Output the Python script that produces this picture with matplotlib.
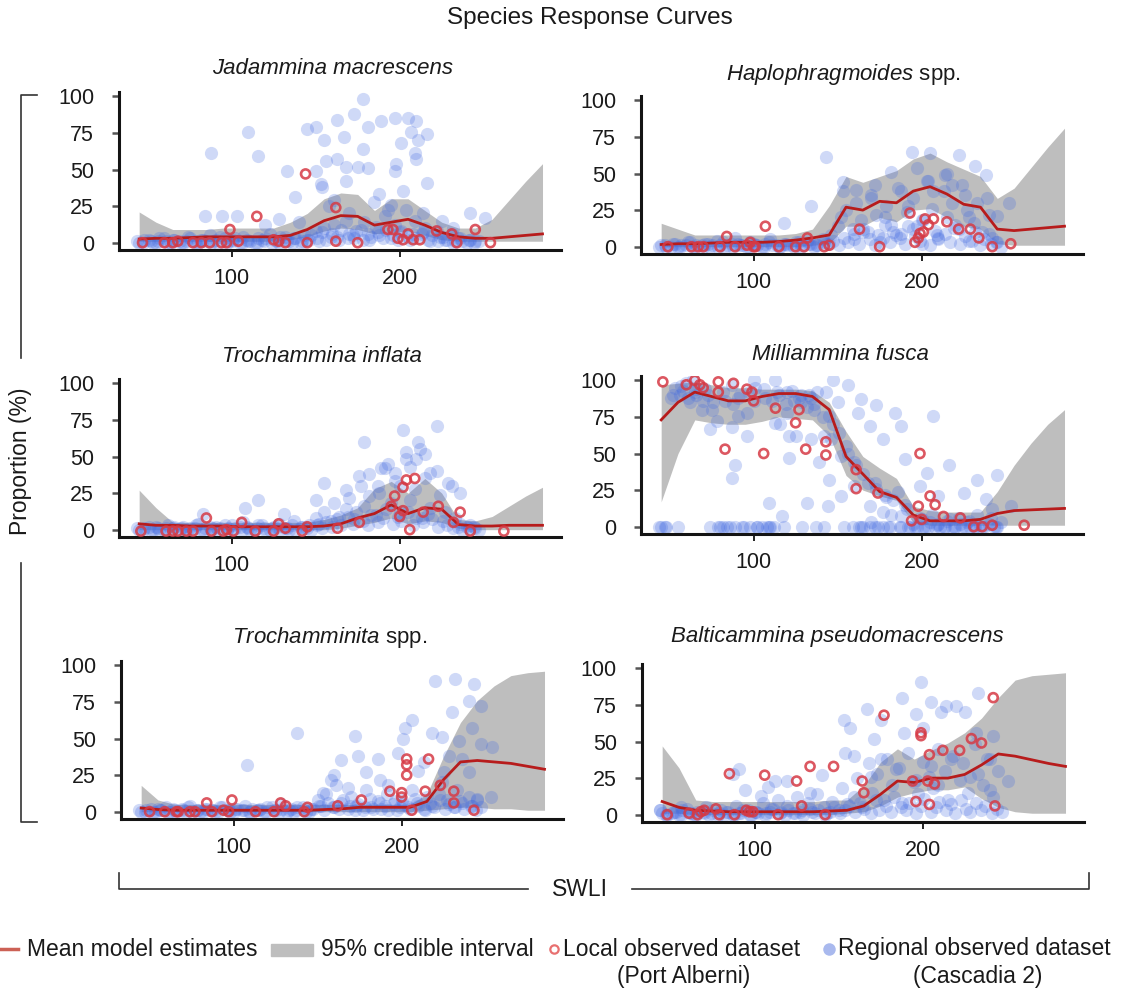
# Species response curves, six foram species vs SWLI

import matplotlib.pyplot as plt
from matplotlib.lines import Line2D
from matplotlib.patches import Rectangle

plt.rcParams['font.family'] = ['Liberation Sans', 'DejaVu Sans']
plt.rcParams['mathtext.fontset'] = 'custom'
plt.rcParams['mathtext.it'] = 'Liberation Sans:italic'
plt.rcParams['mathtext.rm'] = 'Liberation Sans'

# model grid (SWLI) shared by all curves
swli_grid = [45, 55, 65, 75, 85, 95, 105, 115, 125, 135, 145, 155, 165,
             175, 185, 195, 205, 215, 225, 235, 245, 255, 265, 275, 285]

# regional samples near the bottom of each panel (same SWLI for every species)
reg_low_x = [44, 47, 51, 53, 56, 60, 62, 65, 69, 71, 74, 78, 80, 83, 87, 89, 92,
             96, 98, 101, 105, 107, 110, 114, 116, 119, 123, 125, 128, 132, 134,
             137, 141, 143, 146, 150, 152, 155, 159, 161, 164, 168, 170, 173, 177,
             179, 182, 186, 188, 191, 195, 197, 200, 204, 206, 209, 213, 215, 218,
             222, 224, 227, 231, 233, 236, 240, 242, 245]
reg_low_x2 = [45, 48, 52, 55, 57, 61, 64, 66, 70, 73, 75, 79, 82, 84, 88, 91, 93,
              97, 100, 102, 106, 109, 111, 115, 118, 120, 124, 127, 129, 133, 136,
              138, 142, 145, 147, 151, 154, 156, 160, 163, 165, 169, 172, 174, 178,
              181, 183, 187, 190, 192, 196, 199, 201, 205, 208, 210, 214, 217, 219,
              223, 226, 228, 232, 235, 237, 241, 244, 247]

# --- Jadammina macrescens
jm_mean = [2.5, 3, 3, 3.5, 4, 4, 4, 4, 4, 5, 9, 15, 18.5, 18, 12, 14, 16, 12, 7, 4, 3, 3, 4, 5, 6]
jm_upper = [21, 14, 9, 9, 9, 10, 10, 10, 10, 14, 20, 30, 34, 33, 22, 30, 30, 22, 14, 10, 10, 16, 29, 42, 54]
jm_lower = [1, 1, 1, 1, 1, 1, 1, 1, 1, 2, 4, 8, 10, 9, 6, 7, 8, 5, 2, 1, 1, 1, 1, 1, 1]
jm_reg_low = [1, 0, 2, 0, 1, 3, 0, 2, 1, 0, 4, 1, 0, 2, 5, 1, 0, 3, 1, 2,
              0, 4, 1, 0, 3, 1, 6, 2, 0, 4, 1, 3, 0, 5, 2, 8, 1, 10, 4, 12,
              2, 15, 6, 3, 9, 14, 2, 11, 5, 18, 3, 12, 7, 22, 2, 15, 6, 10, 1, 8,
              4, 2, 6, 1, 3, 0, 2, 1]
jm_reg_low2 = [0, 2, 1, 0, 3, 1, 0, 2, 0, 1, 3, 0, 2, 1, 0, 2, 4, 0, 1, 3,
               0, 2, 1, 0, 2, 3, 0, 1, 4, 2, 0, 3, 1, 2, 5, 3, 7, 2, 6, 4,
               9, 3, 5, 8, 2, 6, 4, 7, 3, 9, 5, 2, 8, 4, 6, 3, 7, 2, 5, 1,
               4, 2, 0, 3, 1, 2, 0, 1]
jm_reg_x = [88, 110, 116, 84, 94, 103, 128, 133, 138, 145, 150, 154, 150, 155, 156, 163, 167, 163,
            168, 173, 178, 181, 178, 175, 181, 168, 189, 197, 205, 210, 207, 216, 211, 201, 209, 210,
            198, 216, 188, 202, 197, 153, 161, 242, 251, 193, 214, 120, 140, 158, 170, 185, 195, 225, 232]
jm_reg_y = [61, 76, 59, 18, 18, 18, 16, 49, 31, 78, 49, 38, 79, 70, 56, 84, 72, 57,
            52, 88, 98, 79, 64, 52, 51, 42, 83, 85, 85, 83, 76, 74, 70, 68, 61, 57,
            54, 41, 33, 35, 49, 40, 29, 20, 17, 22, 20, 12, 14, 25, 20, 28, 26, 15, 10]
jm_loc_x = [47, 60, 65, 68, 77, 82, 87, 94, 97, 104, 99, 115, 125, 128, 132, 144, 145, 162, 162, 175,
            193, 196, 199, 202, 205, 208, 212, 222, 231, 234, 245, 254]
jm_loc_y = [0, 0, 0, 1, 0, 0, 0, 0, 0, 1, 9, 18, 2, 1, 0, 47, 0, 24, 1, 0,
            9, 9, 3, 2, 6, 2, 2, 8, 6, 0, 9, 0]

# --- Haplophragmoides spp.
hp_mean = [1.5, 2, 2, 2.5, 3, 3, 3, 3.5, 4.5, 6, 8, 27, 25, 31, 30, 38, 41, 36, 29, 27, 12, 11, 12, 13, 14]
hp_upper = [16, 12, 8, 8, 8, 8, 8, 8, 9, 12, 28, 48, 44, 48, 52, 60, 64, 58, 53, 48, 33, 40, 54, 68, 81]
hp_lower = [0, 0, 0, 0, 0, 0, 0, 0, 0, 1, 2, 14, 14, 20, 17, 25, 26, 20, 14, 12, 2, 1, 1, 1, 1]
hp_reg_low = [0, 1, 0, 2, 0, 1, 3, 0, 1, 2, 0, 4, 1, 0, 2, 6, 1, 0, 3, 1,
              0, 2, 5, 1, 0, 2, 1, 3, 0, 4, 2, 1, 5, 2,
              8, 14, 20, 25, 12, 30, 18, 10, 35, 22, 6, 28, 15, 40, 9, 24, 33, 14, 18, 45,
              26, 8, 38, 20, 30, 12, 42, 25, 16, 30, 10, 22, 6, 3]
hp_reg_low2 = [1, 0, 2, 0, 1, 3, 0, 1, 0, 2, 1, 0, 3, 1, 0, 2, 1, 0, 2, 1,
               0, 3, 1, 0, 2, 1, 0, 3, 1, 2, 0, 1, 3, 2, 4, 1, 6, 3, 9, 2,
               12, 5, 1, 8, 15, 3, 10, 6, 2, 14, 7, 4, 18, 1, 11, 5, 9, 3, 13, 2,
               7, 4, 10, 1, 5, 2, 3, 0]
hp_reg_x = [143, 134, 118, 153, 194, 205, 222, 232, 238, 182, 170, 252, 218, 207, 188, 172, 161, 153, 197,
            214, 226, 239, 245, 160, 165, 175, 185, 195, 200, 210, 220, 230, 240, 178, 203, 192, 215, 228]
hp_reg_y = [61, 28, 16, 44, 65, 64, 63, 55, 49, 51, 33, 30, 42, 38, 38, 42, 39, 38, 54,
            49, 35, 33, 21, 5, 10, 3, 8, 12, 2, 6, 15, 4, 9, 20, 45, 28, 50, 20]
hp_loc_x = [49, 63, 67, 70, 80, 84, 89, 96, 98, 100, 101, 115, 125, 130, 132, 107, 142, 145, 163, 175,
            193, 196, 199, 198, 201, 202, 204, 207, 215, 222, 229, 234, 242, 253]
hp_loc_y = [0, 0, 0, 0, 0, 7, 0, 1, 3, 0, 0, 0, 0, 0, 6, 14, 0, 1, 12, 0,
            23, 3, 9, 6, 10, 19, 15, 19, 17, 12, 12, 6, 0, 2]

# --- Trochammina inflata
ti_mean = [4, 3, 3, 2.5, 2.5, 2.5, 2, 2, 2, 2, 2, 2.5, 4, 8, 11, 17, 11, 15, 14, 3.5, 2.5, 2.5, 3, 3, 3]
ti_upper = [27, 15, 5, 5, 5, 5, 5, 5, 5, 5, 5, 7, 10, 15, 28, 33, 25, 35, 25, 7, 6, 9, 16, 23, 29]
ti_lower = [0, 0, 0, 0, 0, 0, 0, 0, 0, 0, 0, 0, 1, 3, 5, 8, 4, 6, 5, 1, 0, 0, 0, 0, 0]
ti_reg_low = [1, 0, 2, 0, 1, 0, 3, 1, 0, 2, 0, 1, 4, 0, 2, 1, 0, 3, 1, 0,
              2, 5, 1, 0, 3, 1, 0, 2, 4, 1, 0, 6, 2, 1,
              3, 8, 4, 12, 6, 18, 9, 14, 22, 7, 30, 16, 38, 10, 25, 42, 18, 33, 12, 48,
              20, 28, 8, 35, 15, 40, 24, 12, 30, 8, 4, 2, 3, 1]
ti_reg_low2 = [0, 1, 0, 2, 0, 1, 0, 2, 1, 0, 1, 3, 0, 1, 0, 2, 1, 0, 3, 1,
               0, 2, 0, 1, 3, 0, 1, 2, 0, 1, 3, 0, 2, 1, 0, 3, 1, 5, 2, 7,
               3, 9, 4, 12, 6, 3, 10, 5, 8, 14, 4, 9, 6, 12, 3, 8, 5, 11, 7, 2,
               6, 3, 1, 2, 0, 1, 2, 0]
ti_reg_x = [179, 202, 222, 116, 108, 155, 176, 189, 204, 211, 212, 210, 218, 236, 197, 187, 168, 131,
            83, 206, 182, 229, 150, 193, 215, 200]
ti_reg_y = [60, 68, 71, 20, 15, 32, 37, 42, 53, 60, 55, 48, 39, 25, 39, 30, 27, 11,
            11, 43, 23, 32, 20, 45, 52, 30]
ti_loc_x = [46, 61, 65, 68, 73, 77, 85, 88, 95, 97, 101, 106, 114, 125, 128, 132, 142, 145, 163, 176,
            195, 197, 200, 202, 202, 204, 206, 209, 214, 223, 232, 236, 242, 262]
ti_loc_y = [-1, -1, -1, -1, -1, -1, 8, -1, -1, 0, -1, 5, -1, -1, 4, 1, -1, 2, 1, 5,
            16, 23, 9, 13, 29, 34, 0, 35, 12, 16, 5, 12, -1, -1]

# --- Milliammina fusca
mf_mean = [73, 85, 92, 89, 86, 86, 89, 91, 91, 89, 80, 48, 36, 24, 20, 8, 4, 4, 4, 5, 9, 11, 11.5, 12, 12.5]
mf_upper = [97, 98, 99, 97, 95, 95, 94, 94, 94, 93, 85, 65, 48, 40, 33, 14, 11, 10, 10, 10, 24, 42, 57, 70, 80]
mf_lower = [17, 50, 73, 71, 70, 70, 72, 75, 74, 73, 62, 35, 25, 21, 18, 3, 1, 1, 1, 1, 1, 1, 1, 1, 1]
mf_reg_low = [0, 0, 88, 95, 90, 98, 85, 92, 80, 94,
              0, 72, 0, 86, 68, 0, 90, 78, 0, 95,
              0, 88, 0, 92, 70, 84, 93, 62, 90, 82,
              88, 0, 75, 92, 60, 85, 48, 55, 0, 42,
              0, 30, 3, 26, 0, 20, 8, 24, 0, 12,
              2, 0, 5, 0, 8, 1, 0, 4, 0, 6,
              0, 3, 0, 8, 0, 2, 12, 0]
mf_reg_low2 = [0, 0, 90, 0, 96, 88, 100, 94, 86, 90,
               80, 0, 92, 0, 84, 88, 0, 92, 86, 0,
               94, 0, 86, 90, 0, 92, 86, 88, 0, 90,
               84, 92, 0, 76, 70, 64, 0, 50, 44, 0,
               36, 0, 30, 0, 22, 0, 18, 0, 15, 0,
               0, 6, 0, 3, 0, 2, 0, 5, 0, 2,
               0, 4, 0, 1, 0, 6, 0, 3]
mf_reg_x = [100, 113, 87, 74, 76, 91, 96, 113, 121, 121, 134, 142, 139, 145, 89, 87, 109, 117, 132, 144,
            147, 156, 164, 162, 169, 173, 184, 188, 177, 190, 207, 203, 216, 233, 245, 199, 210, 225, 253, 238,
            160, 152, 169, 177, 188, 82, 86, 94, 102, 108, 112, 165, 172, 180, 193, 202, 211, 220, 229, 243,
            120, 128, 136, 66, 58]
mf_reg_y = [100, 100, 97, 67, 85, 76, 62, 71, 62, 47, 60, 62, 44, 32, 42, 33, 16, 7, 16, 14,
            100, 97, 87, 78, 69, 83, 78, 69, 60, 46, 76, 37, 42, 32, 35, 28, 21, 23, 14, 19,
            28, 21, 14, 10, 7, 0, 0, 0, 0, 0, 0, 0, 0, 0, 0, 0, 0, 0, 0, 0,
            78, 85, 80, 90, 93]
mf_loc_x = [46, 60, 65, 68, 70, 79, 79, 88, 96, 99, 100, 83, 106, 113, 125, 127, 131, 143, 143, 161,
            161, 174, 194, 198, 199, 200, 205, 208, 213, 223, 231, 236, 242, 261]
mf_loc_y = [99, 97, 100, 97, 95, 99, 92, 98, 94, 92, 86, 53, 50, 81, 71, 80, 53, 49, 58, 39,
            26, 23, 4, 14, 50, 5, 21, 15, 7, 6, 0, 0, 1, 1]

# --- Trochamminita spp.
tt_mean = [2.5, 1.5, 1, 1, 1, 1, 1, 1, 1, 1, 1, 1.5, 2, 3, 3, 3, 3, 7, 22, 34, 35, 34, 33, 31, 29]
tt_upper = [18, 8, 5, 5, 5, 5, 5, 5, 5, 5, 5, 5, 5, 5, 5, 5, 5, 12, 38, 61, 76, 86, 93, 95, 96]
tt_lower = [0, 0, 0, 0, 0, 0, 0, 0, 0, 0, 0, 0, 0, 0, 0, 0, 0, 1, 2, 3, 3, 2, 2, 1, 1]
tt_reg_low = [1, 0, 2, 0, 1, 3, 0, 1, 2, 0, 4, 1, 0, 2, 1, 0, 3, 1, 0, 2,
              1, 4, 0, 1, 2, 0, 3, 1, 5, 0, 2, 1, 3, 0,
              2, 8, 4, 12, 3, 18, 6, 2, 10, 4, 1, 15, 3, 7, 2, 12, 5, 1, 8, 3,
              15, 6, 2, 10, 4, 12, 20, 8, 3, 15, 6, 10, 4, 8]
tt_reg_low2 = [0, 1, 0, 2, 1, 0, 2, 0, 1, 3, 0, 1, 0, 2, 1, 0, 3, 1, 0, 2,
               1, 0, 2, 1, 0, 3, 1, 0, 2, 1, 0, 3, 1, 0, 2, 4, 1, 6, 3, 2,
               8, 4, 1, 5, 3, 9, 2, 6, 4, 1, 7, 3, 5, 2, 9, 4, 1, 6, 3, 8,
               2, 5, 3, 7, 2, 4, 1, 3]
tt_reg_x = [108, 138, 172, 174, 164, 186, 179, 202, 206, 201, 218, 224, 220, 232, 243, 230, 240, 247,
            242, 234, 247, 254, 228, 236, 240, 225, 253, 245, 158, 153, 192, 213, 187, 160, 168, 198, 210]
tt_reg_y = [32, 54, 52, 38, 35, 36, 27, 57, 63, 50, 54, 51, 89, 91, 87, 68, 76, 72,
            57, 48, 46, 44, 38, 36, 27, 27, 10, 9, 22, 13, 18, 34, 22, 25, 16, 40, 28]
tt_loc_x = [50, 59, 66, 67, 74, 77, 84, 87, 94, 97, 99, 113, 124, 128, 131, 142, 144, 162, 176, 193,
            200, 200, 203, 203, 203, 206, 214, 216, 223, 231, 231, 243]
tt_loc_y = [0, 0, 0, 0, 0, 0, 6, 0, 1, 0, 8, 0, 0, 6, 4, 0, 3, 4, 8, 14,
            13, 10, 36, 32, 25, 1, 14, 36, 18, 14, 6, 1]

# --- Balticammina pseudomacrescens
bp_mean = [9, 5, 3, 2.5, 2, 2, 2, 2, 2, 2, 2.5, 3, 6, 14, 23, 22, 25, 25, 27.5, 34, 41.5, 40, 37.5, 35, 33]
bp_upper = [47, 32, 10, 9, 9, 9, 9, 9, 9, 9, 10, 10, 20, 36, 45, 38, 44, 49, 56, 66, 80, 92, 95, 96, 97]
bp_lower = [1, 1, 0, 0, 0, 0, 0, 0, 0, 0, 0, 1, 2, 6, 12, 15, 17, 17, 19, 11, 5, 2, 1, 1, 1]
bp_reg_low = [3, 0, 1, 2, 0, 4, 1, 0, 2, 5, 1, 0, 3, 2, 0, 6, 1, 3, 0, 2,
              8, 1, 4, 10, 2, 6, 1, 12, 3, 8, 2, 14, 5, 1,
              9, 3, 18, 7, 12, 25, 5, 35, 15, 28, 10, 38, 20, 32, 8, 42, 22, 14, 36, 26,
              18, 45, 30, 10, 40, 24, 35, 15, 48, 28, 20, 38, 12, 30]
bp_reg_low2 = [1, 0, 2, 0, 3, 1, 0, 2, 1, 0, 3, 1, 0, 2, 0, 1, 3, 0, 2, 1,
               0, 2, 4, 1, 0, 3, 1, 2, 0, 4, 1, 3, 0, 2, 5, 1, 3, 6, 2, 8,
               4, 1, 10, 3, 6, 2, 12, 5, 3, 8, 1, 6, 11, 2, 5, 9, 3, 7, 1, 10,
               4, 2, 8, 3, 6, 1, 4, 2]
bp_reg_x = [91, 87, 94, 104, 112, 119, 108, 140, 133, 153, 157, 154, 159, 167, 171, 175, 188, 199, 189, 196,
            205, 211, 214, 220, 225, 233, 200, 205, 217, 232, 238, 251, 242, 175, 184, 169, 228, 196, 209, 240,
            44, 56]
bp_reg_y = [31, 28, 17, 13, 23, 23, 19, 27, 15, 65, 59, 42, 40, 72, 52, 65, 80, 91, 56, 69,
            77, 70, 74, 74, 70, 83, 59, 33, 38, 56, 38, 23, 54, 38, 31, 26, 26, 24, 20, 17,
            3, 5]
bp_loc_x = [48, 61, 66, 68, 70, 77, 79, 88, 95, 97, 99, 85, 106, 114, 125, 128, 133, 142, 147, 164,
            165, 177, 194, 196, 199, 199, 203, 204, 204, 207, 212, 222, 229, 235, 242, 243]
bp_loc_y = [0, 1, 0, 2, 3, 4, 0, 0, 3, 2, 2, 28, 27, 0, 23, 6, 33, 0, 33, 23,
            15, 68, 23, 9, 54, 56, 23, 41, 7, 21, 44, 44, 52, 49, 80, 6]

band_col = '#bebebe'
line_col = '#b71c1c'
loc_col = '#d63a45'
reg_col = '#4169e1'

W, H = 1124, 991
fig = plt.figure(figsize=(W / 100, H / 100), dpi=100)


def fx(x):
    return x / W


def fy(y):
    return 1 - y / H


def panel(box, mean, upper, lower, low1, low2, reg_x, reg_y, loc_x, loc_y):
    l, t, r, b = box
    ax = fig.add_axes([fx(l), fy(b), (r - l) / W, (b - t) / H])
    ax.fill_between(swli_grid, lower, upper, color=band_col, lw=0, zorder=1)
    ax.scatter(reg_low_x + reg_low_x2 + reg_x, low1 + low2 + reg_y, s=90,
               color=reg_col, alpha=0.25, lw=0, zorder=2)
    ax.plot(swli_grid, mean, color=line_col, lw=2, zorder=3)
    ax.scatter(loc_x, loc_y, s=42, facecolors='none', edgecolors=loc_col,
               linewidths=1.9, alpha=0.85, zorder=4)
    ax.set_xlim(33, 296)
    ax.set_ylim(-5, 103)
    ax.spines['top'].set_visible(False)
    ax.spines['right'].set_visible(False)
    for s in ['left', 'bottom']:
        ax.spines[s].set_linewidth(2.2)
        ax.spines[s].set_color('#141414')
    ax.set_yticks([0, 25, 50, 75, 100])
    ax.set_xticks([100, 200])
    ax.tick_params(axis='y', length=5, width=1.8, color='#555555', pad=13,
                   labelsize=15.5, labelcolor='#1a1a1a')
    ax.tick_params(axis='x', length=5, width=1.4, color='#222222', pad=8,
                   labelsize=15.5, labelcolor='#1a1a1a')
    return ax


panel((119, 92, 561, 250), jm_mean, jm_upper, jm_lower, jm_reg_low, jm_reg_low2,
      jm_reg_x, jm_reg_y, jm_loc_x, jm_loc_y)
panel((641, 96, 1083, 254), hp_mean, hp_upper, hp_lower, hp_reg_low, hp_reg_low2,
      hp_reg_x, hp_reg_y, hp_loc_x, hp_loc_y)
panel((119, 379, 561, 537), ti_mean, ti_upper, ti_lower, ti_reg_low, ti_reg_low2,
      ti_reg_x, ti_reg_y, ti_loc_x, ti_loc_y)
panel((641, 376, 1083, 534), mf_mean, mf_upper, mf_lower, mf_reg_low, mf_reg_low2,
      mf_reg_x, mf_reg_y, mf_loc_x, mf_loc_y)
panel((121, 661, 563, 819), tt_mean, tt_upper, tt_lower, tt_reg_low, tt_reg_low2,
      tt_reg_x, tt_reg_y, tt_loc_x, tt_loc_y)
panel((642, 664, 1084, 822), bp_mean, bp_upper, bp_lower, bp_reg_low, bp_reg_low2,
      bp_reg_x, bp_reg_y, bp_loc_x, bp_loc_y)

# panel titles
titles = [("Jadammina macrescens", 333, 74, 'italic'),
          (r"$\it{Haplophragmoides}$ spp.", 843, 80, 'normal'),
          ("Trochammina inflata", 322, 362, 'italic'),
          ("Milliammina fusca", 840, 360, 'italic'),
          (r"$\it{Trochamminita}$ spp.", 330, 643, 'normal'),
          ("Balticammina pseudomacrescens", 837, 642, 'italic')]
for txt, cx, by, st in titles:
    fig.text(fx(cx), fy(by), txt, ha='center', va='baseline', fontsize=16,
             fontstyle=st, color='#1a1a1a')

fig.text(fx(590), fy(18), "Species Response Curves", ha='center', va='center',
         fontsize=17.5, color='#1a1a1a')

# shared axis labels with brackets
bk = dict(color='#333333', lw=1.2, transform=fig.transFigure)
fig.add_artist(Line2D([fx(37), fx(21), fx(21)], [fy(95), fy(95), fy(358)], **bk))
fig.add_artist(Line2D([fx(21), fx(21), fx(37)], [fy(563), fy(822), fy(822)], **bk))
fig.text(fx(21), fy(461), "Proportion (%)", rotation=90, ha='center', va='center',
         fontsize=16.5, color='#1a1a1a')
fig.add_artist(Line2D([fx(119), fx(119), fx(528)], [fy(873), fy(889), fy(889)], **bk))
fig.add_artist(Line2D([fx(632), fx(1089), fx(1089)], [fy(889), fy(889), fy(873)], **bk))
fig.text(fx(580), fy(889), "SWLI", ha='center', va='center', fontsize=16.5, color='#1a1a1a')

# legend
ly = 949
fig.add_artist(Line2D([fx(0), fx(18)], [fy(ly), fy(ly)], color='#c0392b', lw=2.5,
                      alpha=0.8, transform=fig.transFigure))
fig.text(fx(27), fy(ly), "Mean model estimates", va='center', fontsize=16.5, color='#1a1a1a')
fig.add_artist(Rectangle((fx(271), fy(956)), 42 / W, 12 / H, color=band_col,
                         transform=fig.transFigure))
fig.text(fx(321), fy(ly), "95% credible interval", va='center', fontsize=16.5, color='#1a1a1a')
fig.add_artist(Line2D([fx(554)], [fy(ly)], marker='o', ms=6, mfc='none', mec='#e87070',
                      mew=1.6, transform=fig.transFigure))
fig.text(fx(563), fy(ly), "Local observed dataset", va='center', fontsize=16.5, color='#1a1a1a')
fig.text(fx(684), fy(977), "(Port Alberni)", ha='center', va='center', fontsize=16.5, color='#1a1a1a')
fig.add_artist(Line2D([fx(829)], [fy(ly)], marker='o', ms=9, mfc='#a9b9ee', mec='none',
                      transform=fig.transFigure))
fig.text(fx(838), fy(ly), "Regional observed dataset", va='center', fontsize=16.5, color='#1a1a1a')
fig.text(fx(978), fy(977), "(Cascadia 2)", ha='center', va='center', fontsize=16.5, color='#1a1a1a')

fig.savefig('out.png', dpi=100)
